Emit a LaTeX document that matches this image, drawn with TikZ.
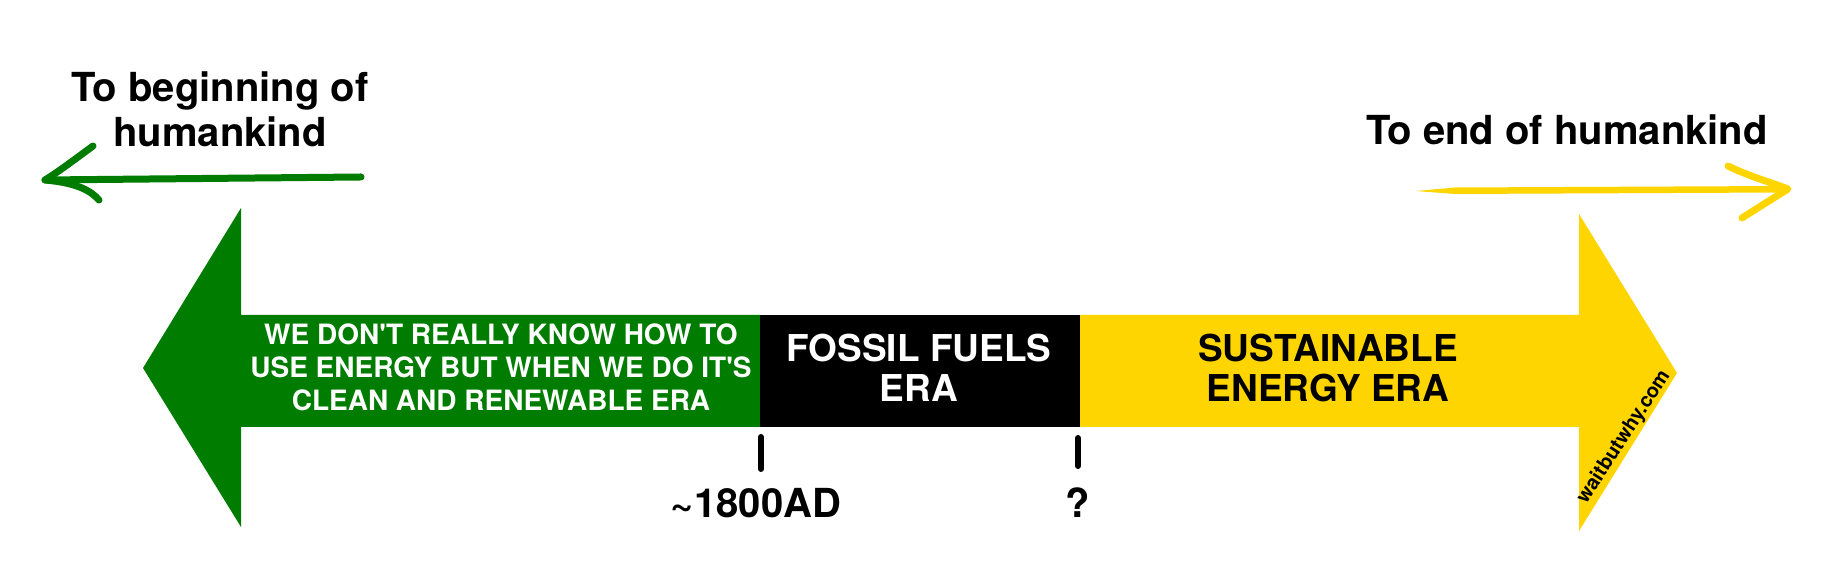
\documentclass[tikz,border=0pt]{standalone}
\usepackage{fontspec}
\setmainfont{TeX Gyre Heros}
\usepackage{tikz}
\usepackage{xcolor}
\usetikzlibrary{positioning, calc}
\definecolor{cGreen}{RGB}{0,125,0}
\definecolor{cYellow}{RGB}{255,213,0}
\tikzset{
	eranote/.style  ={align=center, text=white, inner sep=0pt, font=\bfseries\fontsize{14}{16.5}\selectfont},
	eraname/.style  ={align=center, inner sep=0pt, font=\bfseries\fontsize{18.5}{20}\selectfont},
	dirlabel/.style ={align=center, inner sep=0pt, font=\bfseries\fontsize{20}{22.5}\selectfont},
	ticklabel/.style={anchor=base, inner sep=0pt, font=\bfseries\fontsize{20}{22}\selectfont},
	tickmark/.style ={line width=3pt, line cap=round},
	% hand drawn arrows above the timeline
	handarrow/.style={line width=3.5pt, line cap=round, line join=round},
}

\begin{document}
\begin{tikzpicture}[x=0.5pt, y=-0.5pt]
	\useasboundingbox (0,0) rectangle (1843,581);
	% the timeline arrow
	\fill[cGreen] (143,368) -- (241,208) -- (241,315) -- (760,315) -- (760,427) -- (241,427) -- (241,527) -- cycle;
	\fill[black] (760,315) rectangle (1080,427);
	\fill[cYellow] (1080,315) -- (1579,315) -- (1579,214) -- (1677,373) -- (1579,531) -- (1579,427) -- (1080,427) -- cycle;
	\node[eranote] (early) at (501,367.5) {WE DON\textquotesingle T REALLY KNOW HOW TO\\USE ENERGY BUT WHEN WE DO IT\textquotesingle S\\CLEAN AND RENEWABLE ERA};
	\node[eraname, text=white] (fossil) at (919,368) {FOSSIL FUELS\\ERA};
	\node[eraname] (sustain) at (1328,368) {SUSTAINABLE\\ENERGY ERA};
	\node[rotate=57, inner sep=0pt, font=\bfseries\fontsize{10}{12}\selectfont] (wbw) at (1624,437) {waitbutwhy.com};
	% ticks
	\coordinate (tickA) at (761,437);
	\coordinate (tickAend) at (761,469);
	\coordinate (tickB) at (1078,438);
	\coordinate (tickBend) at (1078,466);
	\draw[tickmark] (tickA) -- (tickAend);
	\draw[tickmark] (tickB) -- (tickBend);
	\node[ticklabel] (year) at (756,518) {\textasciitilde 1800AD};
	\node[ticklabel] (unknown) at (1078,518) {?};
	% directions
	\node[dirlabel] (past) at (220,109) {To beginning of\\humankind};
	\node[dirlabel, anchor=base] (future) at (1567,145) {To end of humankind};
	\coordinate (pastTail) at (361,177);
	\coordinate (pastTip) at (45,180);
	\draw[handarrow, cGreen] (pastTail) -- (pastTip);
	\draw[handarrow, cGreen] (93,146) .. controls (74,160) and (58,172) .. (pastTip) .. controls (78,183) and (91,191) .. (99,200);
	\coordinate (futureTail) at (1416,191);
	\coordinate (futureTip) at (1788,189);
	\fill[cYellow] (futureTail) -- (1455,187.5) -- (1786,186) -- (1786,192.5) -- (1455,194) -- cycle;
	\draw[handarrow, cYellow] (1728,166) .. controls (1748,176) and (1770,182) .. (futureTip) .. controls (1772,199) and (1756,209) .. (1742,218);
\end{tikzpicture}
\end{document}
